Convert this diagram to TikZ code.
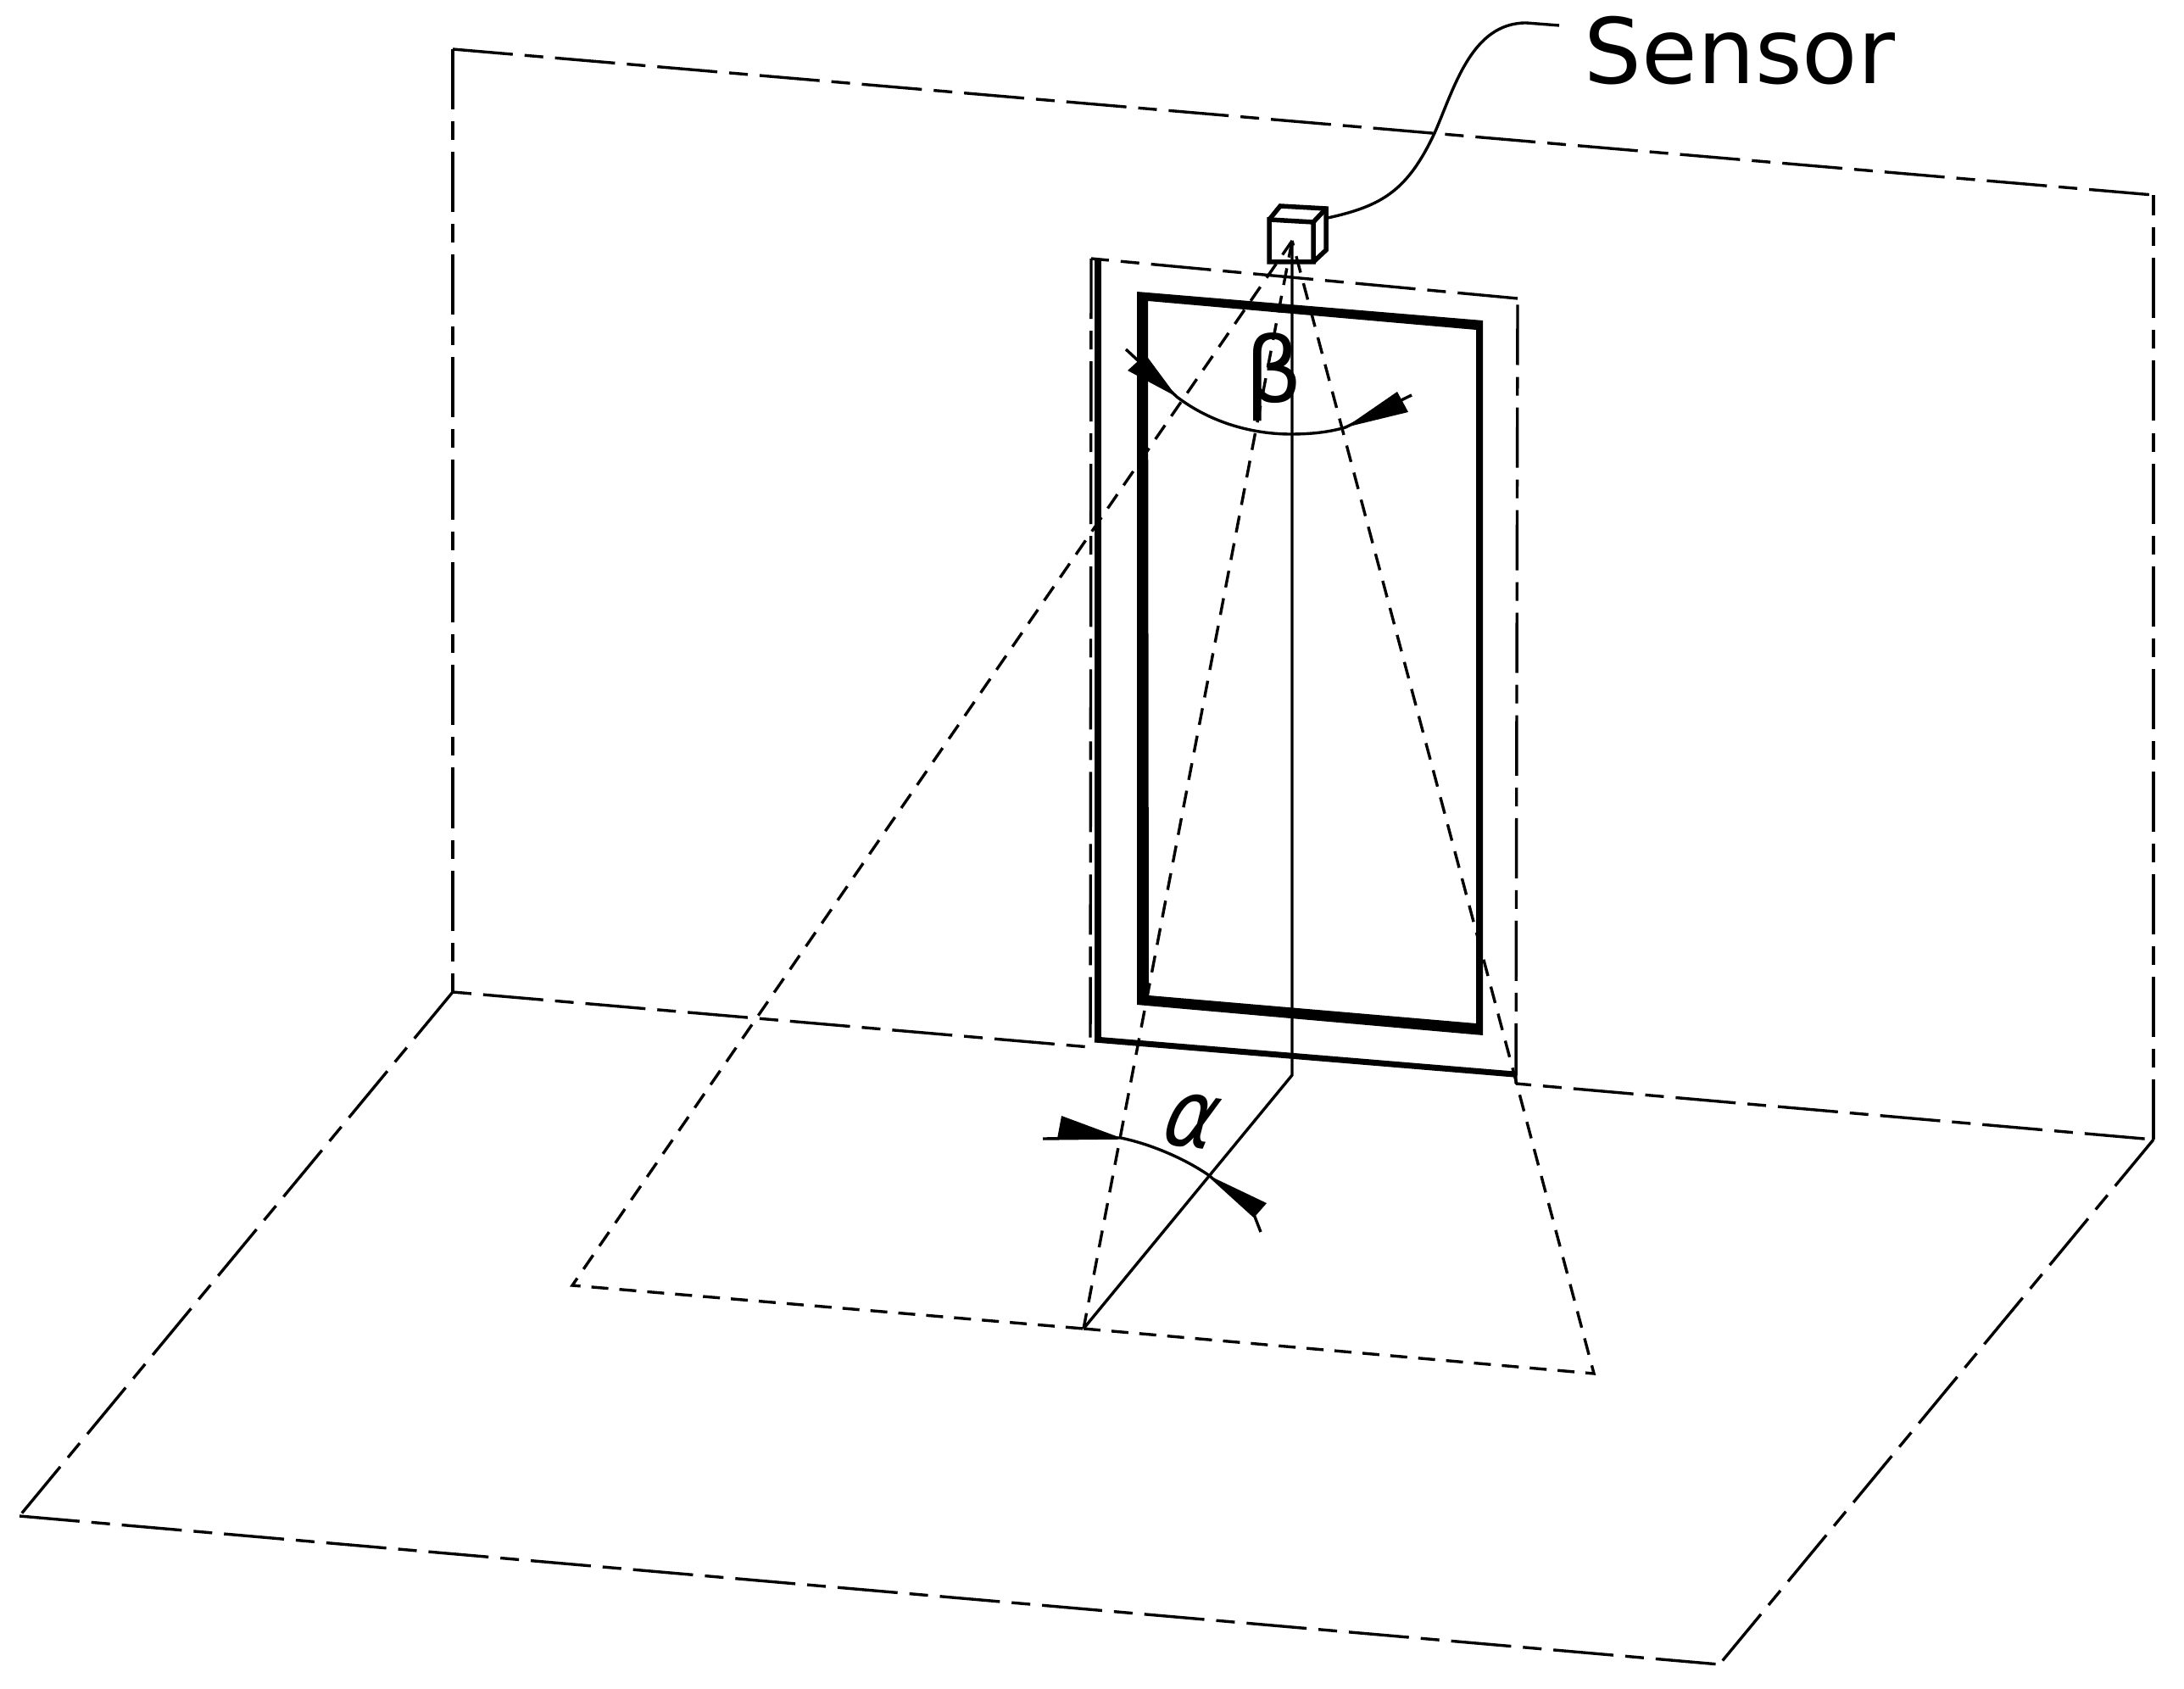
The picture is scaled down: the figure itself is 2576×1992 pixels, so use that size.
\documentclass[tikz,border=0pt]{standalone}
\usepackage{fontspec}
\setmainfont{DejaVu Sans}
\tikzset{
thinline/.style={line width=.034cm},
wallline/.style={line width=.034cm, dash pattern=on .71cm off .14cm on .22cm off .14cm},
beamline/.style={line width=.034cm, dash pattern=on .2cm off .13cm},
cubeline/.style={line width=.055cm, line join=miter},
labeltext/.style={font=\fontsize{30.4}{36}\selectfont, inner sep=0pt}
}
\begin{document}
\begin{tikzpicture}[x=.01cm,y=-.01cm]
\useasboundingbox (0,0) rectangle (2576,1992);
\coordinate (walltl) at (534,58);
\coordinate (wallbl) at (534,1170);
\coordinate (walltr) at (2540,230);
\coordinate (wallbr) at (2540,1344);
\coordinate (floorl) at (23,1788);
\coordinate (floorr) at (2028,1963);
\coordinate (doorbl) at (1286,1235);
\coordinate (doorbr) at (1788,1278);
\coordinate (doortl) at (1287,305);
\coordinate (doortr) at (1790,352);
\coordinate (apex) at (1524,284);
\coordinate (beaml) at (675,1516);
\coordinate (beamm) at (1278,1567);
\coordinate (beamr) at (1880,1620);
\coordinate (foot) at (1524,1268);
\draw [wallline] (walltl)--(wallbl);
\draw [wallline] (walltl)--(walltr);
\draw [wallline] (wallbr)--(walltr);
\draw [wallline] (wallbl)--(floorl);
\draw [wallline] (floorl)--(floorr);
\draw [wallline] (wallbr)--(floorr);
\draw [wallline, dash phase=.85cm] (wallbl)--(doorbl);
\draw [wallline, dash phase=.53cm] (doorbr)--(wallbr);
\draw [wallline] (doortl)--(doorbl);
\draw [wallline] (doortr)--(doortl);
\draw [wallline] (doorbr)--(doortr);
\draw [line width=.08cm] (1295,305)--(1295,1228);
\draw [line width=.07cm] (1291,1226)--(1786,1267);
\fill [even odd rule] (1341,344)--(1749,378)--(1749,1221)--(1341,1185)--cycle (1354,355)--(1741,389)--(1741,1207)--(1355,1174)--cycle;
\draw [beamline] (apex)--(beaml)--(beamm);
\draw [beamline] (beamm)--(beamr)--(apex);
\draw [beamline] (apex)--(beamm);
\draw [thinline] (apex)--(foot)--(beamm);
\draw [cubeline] (1497,259)--(1549,262)--(1549,309)--(1497,309)--cycle;
\draw [cubeline] (1497,259)--(1510,243)--(1564,246)--(1564,295)--(1549,309);
\draw [cubeline] (1549,262)--(1564,246);
\draw [thinline] (1566,257) .. controls (1630,243) and (1660,225) .. (1692,157) .. controls (1715,105) and (1735,27) .. (1800,27)--(1839,30);
\node [labeltext, anchor=west] (sensor) at (1868,60) {Sensor};
\node [labeltext] (beta) at (1503,445) {β};
\node [labeltext, cm={.85,-.12,.42,1,(0,0)}, transform shape] (alpha) at (1406,1322) {α};
\draw [thinline] (1328,412)--(1388,468) .. controls (1430,500) and (1480,512) .. (1522,512) .. controls (1550,512) and (1570,509) .. (1587,504)--(1665,466);
\fill (1351,418)--(1330,437)--(1388,468)--cycle;
\fill (1648,462)--(1661,486)--(1587,504)--cycle;
\draw [thinline] (1230,1343)--(1322,1342) .. controls (1360,1350) and (1400,1368) .. (1427,1387)--(1480,1435)--(1487,1453);
\fill (1252,1316)--(1247,1343)--(1322,1342)--cycle;
\fill (1494,1419)--(1480,1435)--(1427,1387)--cycle;
\end{tikzpicture}
\end{document}
